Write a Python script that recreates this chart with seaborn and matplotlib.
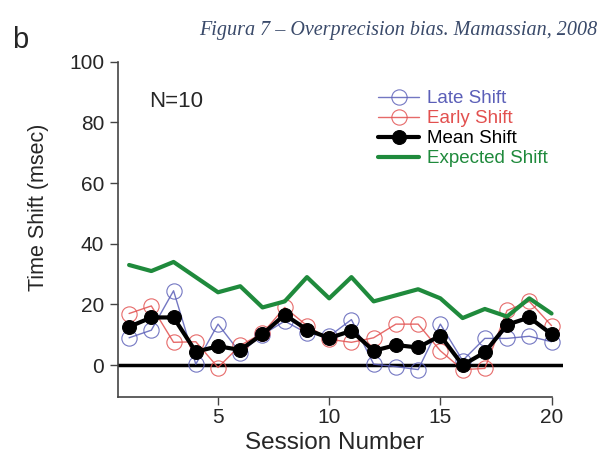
import matplotlib
matplotlib.use("Agg")
import matplotlib.pyplot as plt
import seaborn as sns
import numpy as np

# Session-by-session time shifts (msec)
sessions = list(range(1, 21))
late_shift = [9, 11.5, 24.5, 0.3, 13.5, 4, 10, 14.5, 10.5, 9.5,
              15, 0.3, -0.5, -1.5, 13.5, 1.5, 8.8, 8.8, 9.5, 7.7]
early_shift = [17, 19.5, 7.5, 7.7, -0.8, 6.5, 10.5, 19, 13, 8.5,
               7.5, 9, 13.5, 13.5, 4.7, -1.5, -1.1, 18, 21, 13]
mean_shift = [12.6, 15.7, 15.7, 4.4, 6.2, 5, 10.2, 16.6, 11.7, 8.9,
              11.3, 4.7, 6.6, 5.8, 9.7, 0, 4.2, 13.3, 15.7, 10.2]
expected_shift = [33, 31, 34, 29, 24, 26, 19, 21, 29, 22,
                  29, 21, 23, 25, 22, 15.5, 18.5, 16, 22, 17]

y_ticks = [0, 20, 40, 60, 80, 100]
x_ticks = [5, 10, 15, 20]

sns.set_style("ticks")
plt.rcParams["font.family"] = ["Liberation Sans", "DejaVu Sans"]

c_late = "#5b5fb8"
c_early = "#e2504f"
c_mean = "#000000"
c_exp = "#1f8a3c"

fig = plt.figure(figsize=(6.05, 4.61), dpi=100)
ax = fig.add_axes([0.195, 0.139, 0.735, 0.727])

ax.axhline(0, color="black", lw=2.5, zorder=1)

sns.lineplot(x=sessions, y=late_shift, ax=ax, color=c_late, lw=1.0,
             marker="o", markersize=11, markerfacecolor="none",
             markeredgecolor=c_late, markeredgewidth=0.8, alpha=0.85,
             label="Late Shift", zorder=2)
sns.lineplot(x=sessions, y=early_shift, ax=ax, color=c_early, lw=1.0,
             marker="o", markersize=11, markerfacecolor="none",
             markeredgecolor=c_early, markeredgewidth=0.8, alpha=0.85,
             label="Early Shift", zorder=2)
sns.lineplot(x=sessions, y=mean_shift, ax=ax, color=c_mean, lw=3.0,
             marker="o", markersize=10, markerfacecolor=c_mean,
             markeredgecolor=c_mean, label="Mean Shift", zorder=3)
sns.lineplot(x=sessions, y=expected_shift, ax=ax, color=c_exp, lw=3.0,
             label="Expected Shift", zorder=3)

ax.set_xlim(0.5, 20.5)
ax.set_ylim(-10.5, 100)
ax.set_xticks(x_ticks)
ax.set_yticks(y_ticks)
ax.tick_params(axis="both", labelsize=15, length=6, width=1, color="#444444",
               direction="out")
ax.tick_params(axis="x", pad=2)
ax.tick_params(axis="y", pad=4)
ax.spines["right"].set_visible(False)
ax.spines["top"].set_visible(False)
ax.spines["left"].set_bounds(-10.5, 100)
ax.spines["bottom"].set_bounds(0.5, 20)
for s in ("left", "bottom"):
    ax.spines[s].set_linewidth(1.2)
    ax.spines[s].set_color("#444444")

ax.set_xlabel("Session Number", fontsize=17.5)
ax.xaxis.set_label_coords(0.486, -0.105)
ax.set_ylabel("Time Shift (msec)", fontsize=15.5)
ax.yaxis.set_label_coords(-0.155, 0.567)

ax.text(1.9, 87, "N=10", fontsize=16, ha="left", va="center")

leg = ax.legend(loc="upper left", bbox_to_anchor=(0.585, 0.915), frameon=False,
                fontsize=13.5, handlelength=2.2, handletextpad=0.4,
                labelspacing=0.15, borderaxespad=0.0, borderpad=0.0)
for text, col in zip(leg.get_texts(), [c_late, c_early, c_mean, c_exp]):
    text.set_color(col)

fig.text(0.02, 0.896, "b", fontsize=21, ha="left", va="baseline")
fig.text(0.987, 0.925, "Figura 7 – Overprecision bias. Mamassian, 2008",
         fontsize=14.5, style="italic", color="#3a4a6a", ha="right",
         va="baseline", family=["Liberation Serif"])

fig.savefig("out.png", dpi=100)
